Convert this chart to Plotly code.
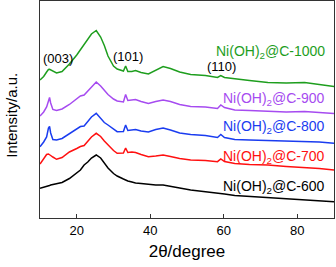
import plotly.graph_objects as go

two_theta = [10, 11, 11.8, 12.3, 12.6, 12.9, 13.5, 14.5, 16, 18, 20, 21, 22, 23, 24, 25.3,
             26.5, 27.5, 28.5, 30, 31, 32.7, 33.3, 33.9, 35, 36, 37.5, 39.5, 41.5, 43.5,
             45.5, 48, 51, 55, 58.3, 59.2, 60.2, 63, 67, 72, 77, 82, 86, 90]

c1000 = [138, 141.5, 146, 148.5, 148.7, 148, 146.5, 145, 146.5, 154, 163, 168, 173, 179, 184, 187.5,
         181, 172.5, 162, 152, 149, 147, 152, 146.5, 146.5, 147.5, 145.5, 144, 147.5, 151.5,
         149.5, 146, 143.5, 142.5, 140.5, 142.5, 140.5, 139, 137.5, 135.5, 135, 135.5, 133.5, 131.5]
c900 = [102, 106, 111, 119, 120.5, 115, 108.5, 107.5, 109, 113.5, 119, 122, 123, 127, 131.5, 136,
        132, 127.5, 123.5, 119, 117, 116, 123.5, 117.5, 118, 118.5, 116.5, 114.5, 116.5, 118,
        116.5, 113.5, 111.5, 111, 109.5, 113, 110.5, 108, 107.5, 106.5, 106, 106.5, 105.5, 104.5]
c800 = [71.3, 76, 81, 90, 91.5, 85, 78.5, 78, 79.5, 84.5, 89, 91.5, 92, 97, 101, 104.7,
        99.5, 95.5, 93, 88.5, 86.3, 86.5, 93, 87.5, 88, 88.5, 87, 86, 88.5, 90,
        88, 85, 83.5, 82.5, 80.5, 83.5, 80.5, 78.5, 78, 77.5, 77, 77, 76, 74.7]
c700 = [54, 60, 63.5, 64, 63.5, 62.5, 61, 58.7, 60.5, 66, 69.5, 71.5, 72.5, 77, 81, 84.7,
        81.5, 77, 73, 67.5, 64.7, 65, 70, 65.5, 66, 65.5, 63.5, 61.3, 62, 63,
        61.5, 59.5, 58, 57.5, 56.3, 59, 56.5, 54.5, 53.5, 53, 51.5, 50.5, 49.5, 48]
c600 = [29.7, 30.5, 31.5, 32, 32.5, 33, 33.5, 34.5, 35.5, 39.5, 45, 48, 53, 56, 60, 63,
        60, 54.5, 50, 44.5, 42, 39, 38, 37, 36, 35, 34.5, 33.5, 33, 33,
        32, 30, 28, 26.5, 25, 24.5, 24, 22.5, 21.5, 20.5, 19, 18, 17, 16.3]

series_names = ["Ni(OH)<sub>2</sub>@C-1000", "Ni(OH)<sub>2</sub>@C-900", "Ni(OH)<sub>2</sub>@C-800",
                "Ni(OH)<sub>2</sub>@C-700", "Ni(OH)<sub>2</sub>@C-600"]
series_values = [c1000, c900, c800, c700, c600]
series_colors = ["#1e9e1e", "#a64bf0", "#1a3cf0", "#ff1010", "#000000"]
label_y = [166.3, 119, 90.7, 61.3, 31.3]

peak_labels = ["(003)", "(101)", "(110)"]
peak_x = [14.8, 34.0, 59.5]
peak_y = [160, 162, 151.3]

x_ticks = [20, 40, 60, 80]

font = "Arial, Liberation Sans, sans-serif"

fig = go.Figure()
for name, vals, col in zip(series_names, series_values, series_colors):
    fig.add_trace(go.Scatter(x=two_theta, y=vals, mode="lines", name=name,
                             line=dict(color=col, width=1.5), showlegend=False))

for name, ly, col in zip(series_names, label_y, series_colors):
    fig.add_annotation(x=88.1, y=ly, text=name, showarrow=False, xanchor="right", yanchor="middle",
                       font=dict(family=font, size=14, color=col))

for t, px, py in zip(peak_labels, peak_x, peak_y):
    fig.add_annotation(x=px, y=py, text=t, showarrow=False, xanchor="center", yanchor="middle",
                       font=dict(family=font, size=13, color="#000000"))

fig.add_annotation(xref="paper", yref="paper", x=-0.098, y=0.472, text="Intensity/a.u.",
                   textangle=-90, showarrow=False, xanchor="center", yanchor="middle",
                   font=dict(family=font, size=15, color="#000000"))

fig.update_layout(
    width=336, height=267,
    margin=dict(l=40, r=2, t=1, b=49),
    plot_bgcolor="white", paper_bgcolor="white",
    font=dict(family=font, color="#000000"),
)
fig.update_xaxes(range=[10, 90], tickvals=x_ticks, ticks="inside", ticklen=4, tickcolor="#333",
                 showline=True, linecolor="#333", linewidth=1.2, mirror=True, showgrid=False,
                 zeroline=False, tickfont=dict(size=13, family=font, color="#000"),
                 title=dict(text="2θ/degree", font=dict(size=17, family=font, color="#000"), standoff=8))
fig.update_yaxes(range=[0, 217], showticklabels=False, ticks="", showline=True, linecolor="#333",
                 linewidth=1.2, mirror=True, showgrid=False, zeroline=False)

fig.write_html("out.html", config={"displayModeBar": False},
               post_script="document.body.style.margin='0';")
